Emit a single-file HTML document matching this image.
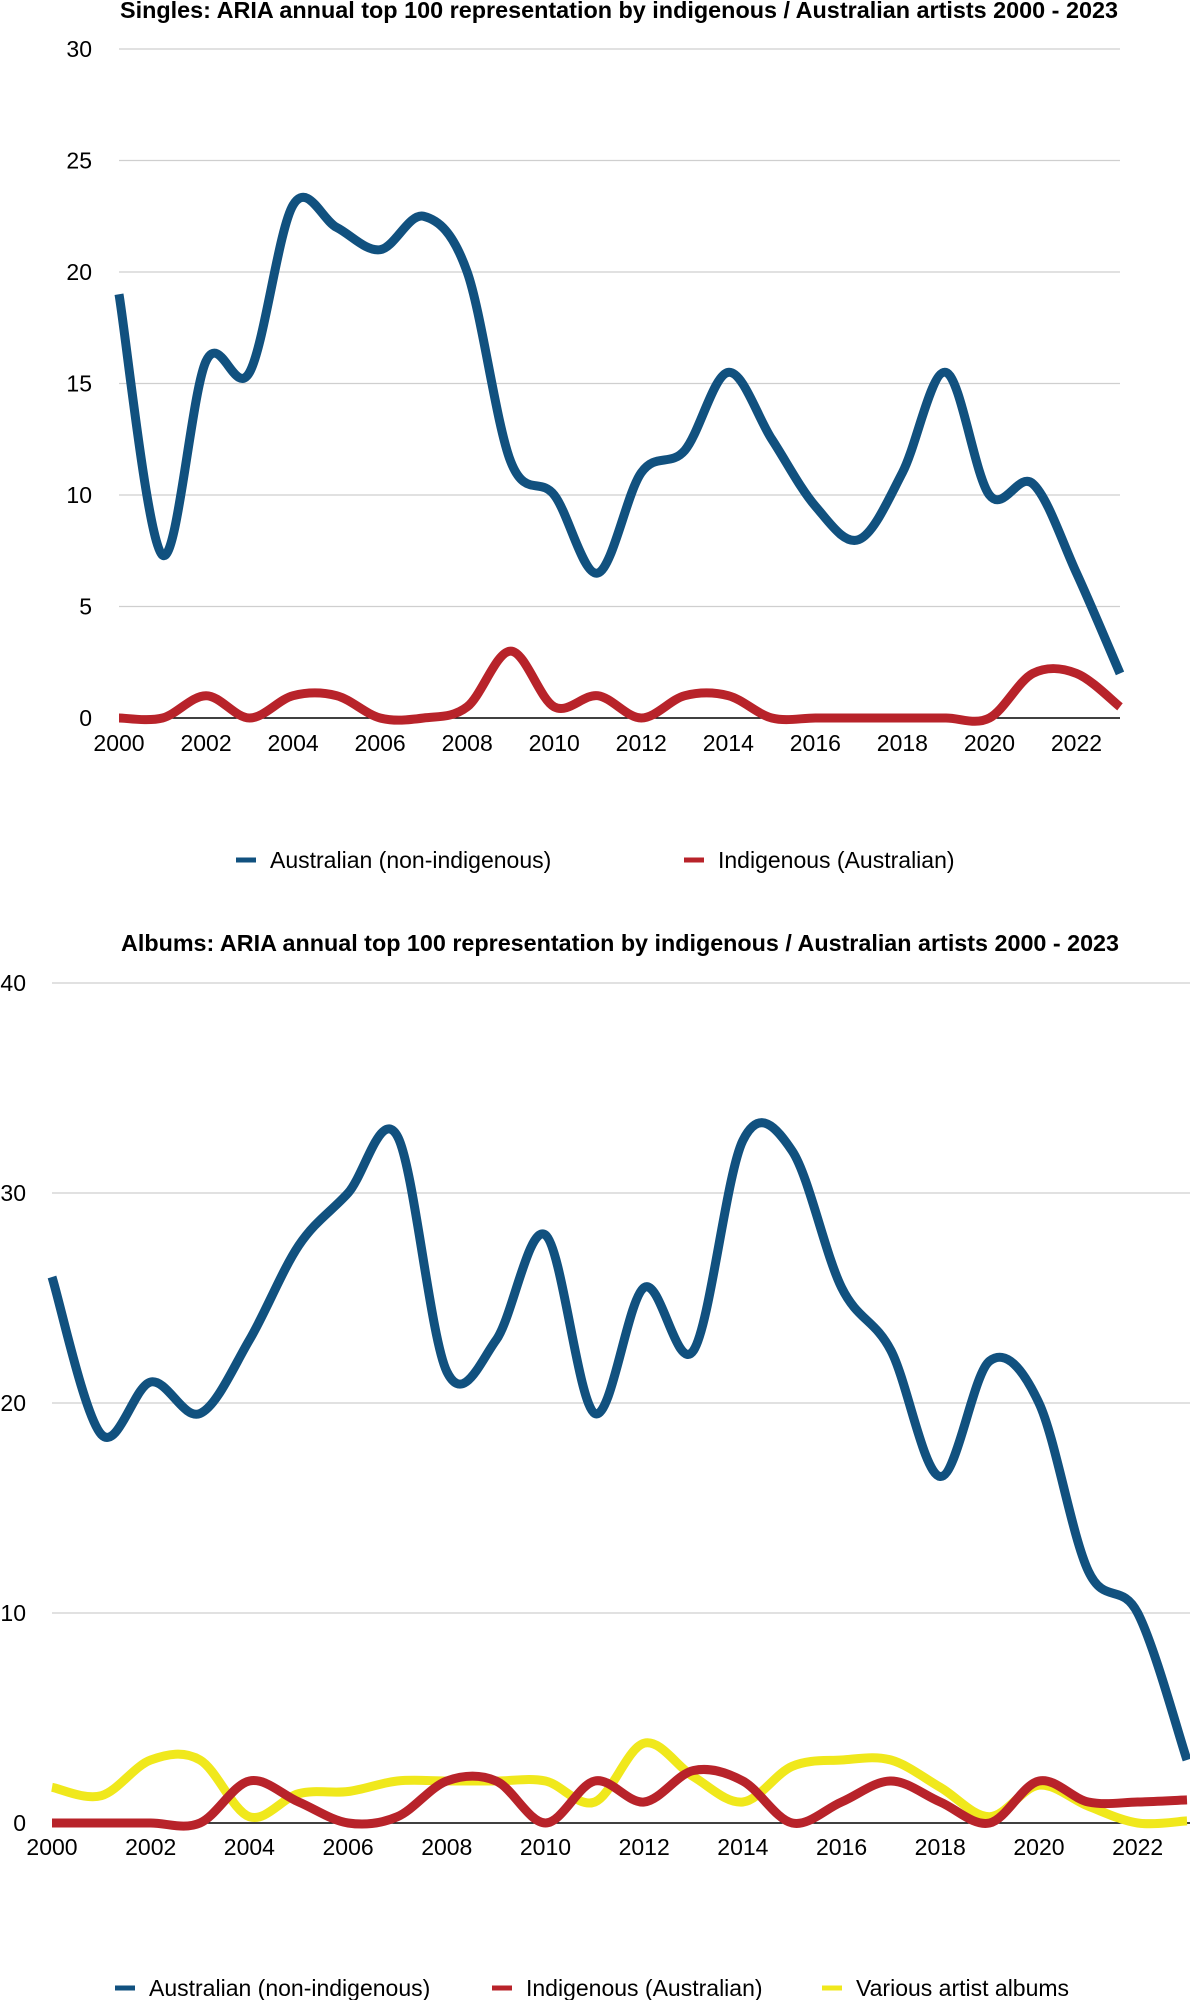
<!DOCTYPE html>
<html><head><meta charset="utf-8"><style>
html,body{margin:0;padding:0;background:#fff;}
svg{display:block;font-family:"Liberation Sans",Arial,sans-serif;}
</style></head><body>
<svg id="c" width="1190" height="2000"></svg>
<script>
const years=[2000,2001,2002,2003,2004,2005,2006,2007,2008,2009,2010,2011,2012,2013,2014,2015,2016,2017,2018,2019,2020,2021,2022,2023];
const xTicks=[2000,2002,2004,2006,2008,2010,2012,2014,2016,2018,2020,2022];
const singlesYTicks=[0,5,10,15,20,25,30];
const albumsYTicks=[0,10,20,30,40];
const singlesAus=[19,7.3,16,15.5,23,22,21,22.5,20,11.5,10,6.5,11,12,15.5,12.5,9.5,8,11,15.5,10,10.5,6.5,2];
const singlesInd=[0,0,1,0,1,1,0,0,0.5,3,0.5,1,0,1,1,0,0,0,0,0,0,2,2,0.5];
const albumsAus=[26,18.5,21,19.5,23,27.5,30,32.7,21.5,23,28,19.5,25.5,22.5,32.5,32,25.5,22.5,16.5,22,20,12,10,3];
const albumsInd=[0,0,0,0,2,1,0,0.3,2,2,0,2,1,2.5,2,0,1,2,1,0,2,1,1,1.1];
const albumsVar=[1.7,1.3,3,3,0.3,1.4,1.5,2,2,2,2,1,3.8,2.2,1,2.7,3,3,1.7,0.3,1.8,0.8,0,0.1];

const NS="http://www.w3.org/2000/svg";
const svg=document.getElementById('c');
function mk(tag,attrs,parent){const e=document.createElementNS(NS,tag);for(const k in attrs)e.setAttribute(k,attrs[k]);(parent||svg).appendChild(e);return e;}
function smooth(pts){let d=`M${pts[0][0]},${pts[0][1]}`;for(let i=0;i<pts.length-1;i++){const p0=pts[Math.max(0,i-1)],p1=pts[i],p2=pts[i+1],p3=pts[Math.min(pts.length-1,i+2)];const t=6;d+=` C${p1[0]+(p2[0]-p0[0])/t},${p1[1]+(p2[1]-p0[1])/t} ${p2[0]-(p3[0]-p1[0])/t},${p2[1]-(p3[1]-p1[1])/t} ${p2[0]},${p2[1]}`;}return d;}

function chart(o){
  const g=mk('g',{});
  
  
  const x=v=>o.x0+(v-2000)*(o.x1-o.x0)/23;
  const y=v=>o.y0-v*(o.y0-o.yTop)/o.yMax;
  const t=mk('text',{x:o.tx,y:o.ty,'text-anchor':'middle','font-size':23,'font-weight':'bold',fill:'#000',textLength:o.tw,lengthAdjust:'spacingAndGlyphs'},g);
  t.textContent=o.title;
  
  
  o.yTicks.forEach(v=>{
    if(v>0){const l=mk('line',{x1:o.gx0,x2:o.gx1,y1:y(v),y2:y(v),stroke:'#cfcfcf','stroke-width':1.3},g);
    
    }
    const tx=mk('text',{x:o.ylx,y:y(v)+8,'text-anchor':'end','font-size':23,fill:'#000'},g);
    tx.textContent=v;
    
    
  });
  const b=mk('line',{x1:o.gx0,x2:o.gx1,y1:y(0),y2:y(0),stroke:'#000','stroke-width':1.5},g);
  
  
  xTicks.forEach(v=>{
    const tx=mk('text',{x:x(v),y:o.xly,'text-anchor':'middle','font-size':23,fill:'#000'},g);
    tx.textContent=v;
    
    
  });
  o.series.forEach(s=>{
    const p=mk('path',{d:smooth(s.data.map((v,i)=>[x(years[i]),y(v)])),fill:'none',stroke:s.color,'stroke-width':9,'stroke-linejoin':'round'},g);
    
    
  });
  o.series.forEach(s=>{
    const m=mk('line',{x1:s.lx,x2:s.lx+20,y1:o.ly-8,y2:o.ly-8,stroke:s.color,'stroke-width':5},g);
    
    
    const tx=mk('text',{x:s.lx+34,y:o.ly,'font-size':23,fill:'#000'},g);
    tx.textContent=s.label;
    
    
  });
}
chart({name:'singles-chart',title:'Singles: ARIA annual top 100 representation by indigenous / Australian artists 2000 - 2023',tx:619,ty:18,tw:998,
  x0:119,x1:1120,gx0:119,gx1:1120,y0:718,yTop:49,yMax:30,yTicks:singlesYTicks,ylx:92,xly:751,ly:868,
  series:[{id:'australian',label:'Australian (non-indigenous)',color:'#11517f',data:singlesAus,lx:236},
          {id:'indigenous',label:'Indigenous (Australian)',color:'#b8232a',data:singlesInd,lx:684}]});
chart({name:'albums-chart',title:'Albums: ARIA annual top 100 representation by indigenous / Australian artists 2000 - 2023',tx:620,ty:951,tw:998,
  x0:52,x1:1187,gx0:52,gx1:1190,y0:1823,yTop:983,yMax:40,yTicks:albumsYTicks,ylx:26,xly:1855,ly:1996,
  series:[{id:'various',label:'Various artist albums',color:'#f0e81c',data:albumsVar,lx:822},
          {id:'australian',label:'Australian (non-indigenous)',color:'#11517f',data:albumsAus,lx:115},
          {id:'indigenous',label:'Indigenous (Australian)',color:'#b8232a',data:albumsInd,lx:492}]});
</script>
</body></html>
